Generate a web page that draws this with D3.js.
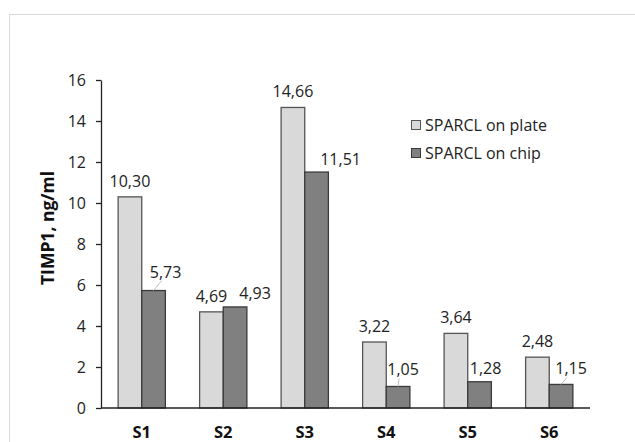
<!DOCTYPE html>
<html>
<head>
<meta charset="utf-8">
<script src="https://cdn.jsdelivr.net/npm/d3@7"></script>
<style>
  html, body { margin: 0; padding: 0; background: #fff; }
  svg { display: block; }
</style>
</head>
<body>
<svg id="chart" width="635" height="442"></svg>
<script>
// ---- data ----
const categories = ["S1", "S2", "S3", "S4", "S5", "S6"];
const seriesNames = ["SPARCL on plate", "SPARCL on chip"];
const plateValues = [10.30, 4.69, 14.66, 3.22, 3.64, 2.48];
const chipValues = [5.73, 4.93, 11.51, 1.05, 1.28, 1.15];
const yTicks = [0, 2, 4, 6, 8, 10, 12, 14, 16];
const yTitle = "TIMP1, ng/ml";

// ---- layout (label nudges for the chip series, in px) ----
const chipLabelDx = [12, 20, 24, 5, 6, 10];
const chipLabelLift = [13, 8, 7, 11, 8, 10];
const chipLeader = [true, false, false, true, false, true];

const svg = d3.select("#chart");
const font = "'Open Sans', sans-serif";

// frame
svg.append("rect")
  .attr("x", 9.5).attr("y", 14.5)
  .attr("width", 640).attr("height", 440)
  .attr("fill", "#fff").attr("stroke", "#d9d9d9").attr("stroke-width", 1);

const x0 = d3.scaleBand().domain(categories).range([101, 590])
  .paddingInner(0.42).paddingOuter(0.21);
const x1 = d3.scaleBand().domain(seriesNames).range([0, x0.bandwidth()]);
const y = d3.scaleLinear().domain([0, 16]).range([408, 80]);

const colors = { "SPARCL on plate": "#d9d9d9", "SPARCL on chip": "#808080" };
const strokes = { "SPARCL on plate": "#555555", "SPARCL on chip": "#3a3a3a" };

const rows = categories.map((c, i) => ({
  cat: c, i,
  vals: [
    { s: seriesNames[0], v: plateValues[i] },
    { s: seriesNames[1], v: chipValues[i] }
  ]
}));

// bars
const g = svg.append("g");
const groups = g.selectAll("g.grp").data(rows).enter().append("g")
  .attr("transform", d => `translate(${x0(d.cat)},0)`);
groups.selectAll("rect").data(d => d.vals).enter().append("rect")
  .attr("x", d => x1(d.s))
  .attr("y", d => y(d.v))
  .attr("width", x1.bandwidth())
  .attr("height", d => y(0) - y(d.v))
  .attr("fill", d => colors[d.s])
  .attr("stroke", d => strokes[d.s])
  .attr("stroke-width", 1.3);

// y axis
const yAxis = d3.axisLeft(y).tickValues(yTicks).tickSize(5).tickSizeOuter(0).tickPadding(10);
const ya = svg.append("g").attr("transform", "translate(101,0)").call(yAxis);
ya.select(".domain").attr("stroke", "#222").attr("stroke-width", 1.3);
ya.selectAll(".tick line").attr("stroke", "#222").attr("stroke-width", 1.3);
ya.selectAll(".tick text").attr("font-family", font).attr("font-size", 16).attr("fill", "#222");

// x axis line
svg.append("line")
  .attr("x1", 101).attr("x2", 590)
  .attr("y1", y(0)).attr("y2", y(0))
  .attr("stroke", "#222").attr("stroke-width", 1.3);

// category labels
svg.selectAll("text.cat").data(categories).enter().append("text")
  .attr("class", "cat")
  .attr("x", d => x0(d) + x0.bandwidth() / 2)
  .attr("y", 438)
  .attr("text-anchor", "middle")
  .attr("font-family", font).attr("font-weight", "bold").attr("font-size", 16.5)
  .attr("fill", "#111")
  .text(d => d);

// y title
svg.append("text")
  .attr("transform", `translate(54,${(y(0) + y(16)) / 2 - 16}) rotate(-90)`)
  .attr("text-anchor", "middle")
  .attr("font-family", font).attr("font-weight", "bold").attr("font-size", 17.5)
  .attr("fill", "#111")
  .text(yTitle);

const fmt = v => v.toFixed(2).replace(".", ",");

// plate labels
svg.selectAll("text.pl").data(plateValues).enter().append("text")
  .attr("x", (d, i) => x0(categories[i]) + x1(seriesNames[0]) + x1.bandwidth() / 2)
  .attr("y", d => y(d) - 10)
  .attr("text-anchor", "middle")
  .attr("font-family", font).attr("font-size", 16).attr("fill", "#222")
  .text(fmt);

// chip labels + leaders
chipValues.forEach((v, i) => {
  const cx = x0(categories[i]) + x1(seriesNames[1]) + x1.bandwidth() / 2;
  const top = y(v);
  const lx = cx + chipLabelDx[i];
  const ly = top - chipLabelLift[i];
  if (chipLeader[i]) {
    svg.append("line")
      .attr("x1", cx).attr("y1", top)
      .attr("x2", lx - 4).attr("y2", ly + 3)
      .attr("stroke", "#bfbfbf").attr("stroke-width", 1);
  }
  svg.append("text")
    .attr("x", lx).attr("y", ly)
    .attr("text-anchor", "middle")
    .attr("font-family", font).attr("font-size", 16).attr("fill", "#222")
    .text(fmt(v));
});

// legend
const leg = svg.append("g").attr("transform", "translate(411,120)");
seriesNames.forEach((s, i) => {
  leg.append("rect")
    .attr("x", 0.5).attr("y", i * 28 + 0.5)
    .attr("width", 9).attr("height", 9)
    .attr("fill", colors[s]).attr("stroke", strokes[s]).attr("stroke-width", 1);
  leg.append("text")
    .attr("x", 14).attr("y", i * 28 + 11)
    .attr("font-family", font).attr("font-size", 16).attr("fill", "#222")
    .text(s);
});
</script>
</body>
</html>
